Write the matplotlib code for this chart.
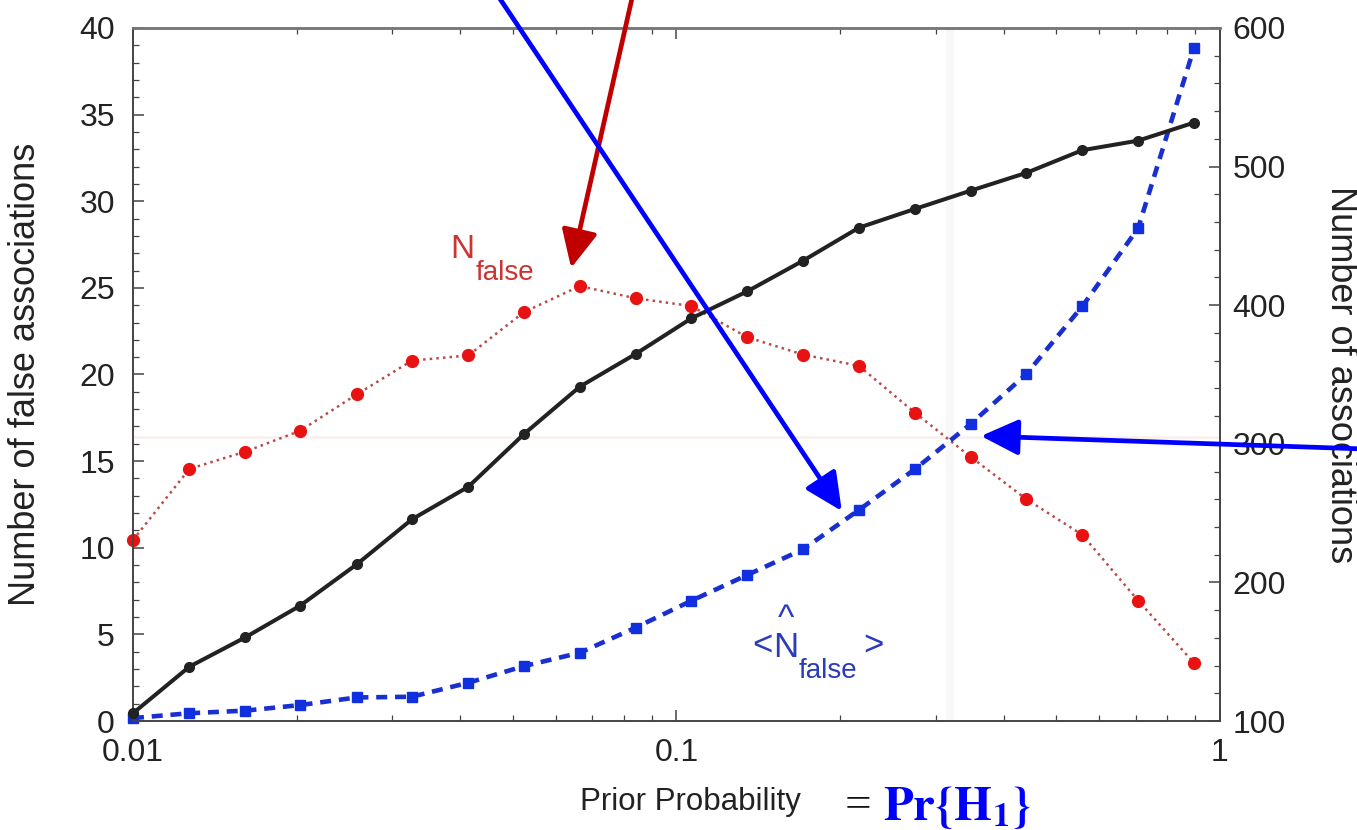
import numpy as np
import matplotlib
matplotlib.use('Agg')
import matplotlib.pyplot as plt
from matplotlib.ticker import MultipleLocator, LogLocator, NullFormatter, FixedLocator, FixedFormatter

plt.rcParams['font.family'] = ['Liberation Sans', 'DejaVu Sans']

# -----------------------------------------------------------------------------
# data

prior = [0.0100, 0.0127, 0.0161, 0.0203, 0.0258, 0.0326, 0.0414, 0.0524,
         0.0664, 0.0841, 0.1065, 0.135, 0.171, 0.2166, 0.2745, 0.3477,
         0.4405, 0.558, 0.707, 0.896]

n_false = [10.45, 14.55, 15.55, 16.75, 18.85, 20.8, 21.1, 23.6, 25.1, 24.4,
           23.95, 22.15, 21.15, 20.5, 17.8, 15.25, 12.8, 10.75, 6.95, 3.35]

n_false_hat = [0.17, 0.45, 0.6, 0.92, 1.36, 1.40, 2.21, 3.17, 3.94, 5.39,
               6.94, 8.43, 9.91, 12.18, 14.53, 17.14, 20.03, 23.93, 28.44, 38.85]

n_assoc = [105.6, 139.2, 160.4, 183.2, 213.0, 245.5, 269.0, 307.0, 341.2,
           364.8, 390.5, 410.0, 432.1, 455.9, 469.4, 482.6, 495.5, 511.8,
           518.7, 531.7]

x_ticks = [0.01, 0.1, 1]
x_tick_labels = ['0.01', '0.1', '1']

# -----------------------------------------------------------------------------

fig = plt.figure(figsize=(13.57, 8.30), dpi=100)
ax = fig.add_axes([0.098, 0.1313, 0.801, 0.835])
ax2 = ax.twinx()

# faint crosshair left in the scan
ax.axvline(0.3186, color='#f8f8f8', lw=6, zorder=0)
ax.axhline(16.4, color='#faf0f0', lw=2, zorder=0)

ax.plot(prior, n_false, linestyle=':', color='#b84a4a', lw=1.8,
        marker='o', markersize=8.5, markerfacecolor='#e81212',
        markeredgecolor='#e81212', clip_on=False, zorder=3)
ax.plot(prior, n_false_hat, linestyle=(0, (2.4, 1.7)), color='#1a2fd0', lw=3.3,
        marker='s', markersize=7.5, markerfacecolor='#1030e0',
        markeredgecolor='#1030e0', clip_on=False, zorder=4)
ax2.plot(prior, n_assoc, '-', color='#222222', lw=2.9,
         marker='o', markersize=7, markerfacecolor='#222222',
         markeredgecolor='#222222', clip_on=False, zorder=3)

ax.set_xscale('log')
ax.set_xlim(0.01, 1)
ax.set_ylim(0, 40)
ax2.set_ylim(100, 600)

ax.xaxis.set_major_locator(FixedLocator(x_ticks))
ax.xaxis.set_major_formatter(FixedFormatter(x_tick_labels))
ax.xaxis.set_minor_locator(LogLocator(base=10, subs=np.arange(2, 10)))
ax.xaxis.set_minor_formatter(NullFormatter())
ax.yaxis.set_major_locator(MultipleLocator(5))
ax.yaxis.set_minor_locator(MultipleLocator(1))
ax2.yaxis.set_major_locator(MultipleLocator(100))
ax2.yaxis.set_minor_locator(MultipleLocator(20))

for a in (ax, ax2):
    for s in a.spines.values():
        s.set_color('#444444')
        s.set_linewidth(1.2)
    a.spines['top'].set_color('#777777')
    a.spines['top'].set_linewidth(1.8)

ax.tick_params(which='both', direction='in', top=True, right=False,
               colors='#444444', labelcolor='#222222', labelsize=23)
ax.tick_params(which='major', length=8, width=1.1)
ax.tick_params(which='minor', length=4, width=0.9)
ax.tick_params(axis='y', pad=13)
ax.tick_params(axis='x', pad=12)
ax2.tick_params(which='both', direction='in', colors='#444444',
                labelcolor='#222222', labelsize=23, pad=9)
ax2.tick_params(which='major', length=8, width=1.1)
ax2.tick_params(which='minor', length=4, width=0.9)

ax.set_xlabel('Prior Probability', fontsize=22.5, color='#222222')
ax.xaxis.set_label_coords(0.513, -0.095)
ax.set_ylabel('Number of false associations', fontsize=26, color='#222222')
ax.yaxis.set_label_coords(-0.083, 0.5)
ax2.set_ylabel('Number of associations', fontsize=26, color='#222222',
               rotation=270, va='bottom', ha='center')
ax2.yaxis.set_label_coords(1.095, 0.5)

# curve labels
red_txt = '#cc3333'
ax.text(0.03833, 26.72, 'N', color=red_txt, fontsize=24, va='baseline', ha='left')
ax.text(0.04278, 25.45, 'false', color=red_txt, fontsize=20, va='baseline', ha='left')

blue_txt = '#2a3cb8'
ax.text(0.1377, 3.81, '<', color=blue_txt, fontsize=25, va='baseline', ha='left')
ax.text(0.1587, 3.30, '^\nN', color=blue_txt, fontsize=25, va='bottom',
        ha='center', multialignment='center', linespacing=0.8)
ax.text(0.1681, 2.48, 'false', color=blue_txt, fontsize=20, va='baseline', ha='left')
ax.text(0.2204, 3.81, '>', color=blue_txt, fontsize=25, va='baseline', ha='left')

# overlaid arrows
arrow_style = '-|>,head_length=1.15,head_width=0.55'
ax2.annotate('', xy=(0.0640, 26.15), xytext=(0.0835, 42.2),
             xycoords=ax.transData, textcoords=ax.transData,
             annotation_clip=False,
             arrowprops=dict(arrowstyle=arrow_style, mutation_scale=20,
                             lw=3.4, color='#c00000', shrinkA=0, shrinkB=0))
ax2.annotate('', xy=(0.2015, 12.12), xytext=(0.04616, 42.2),
             xycoords=ax.transData, textcoords=ax.transData,
             annotation_clip=False,
             arrowprops=dict(arrowstyle=arrow_style, mutation_scale=20,
                             lw=3.4, color='#0000ff', shrinkA=0, shrinkB=0))
ax2.annotate('', xy=(0.3633, 16.45), xytext=(1.849, 15.70),
             xycoords=ax.transData, textcoords=ax.transData,
             annotation_clip=False,
             arrowprops=dict(arrowstyle=arrow_style, mutation_scale=20,
                             lw=3.4, color='#0000ff', shrinkA=0, shrinkB=0))

fig.text(0.6227, 0.0289, '=', fontsize=34, family='Liberation Serif',
         color='#111111', va='center', ha='left')
fig.text(0.6507, 0.0125, r'$\mathbf{Pr\{H_1\}}$', fontsize=35,
         math_fontfamily='stix', color='#0000ff', va='baseline', ha='left')

fig.savefig('out.png', dpi=100, facecolor='white')
